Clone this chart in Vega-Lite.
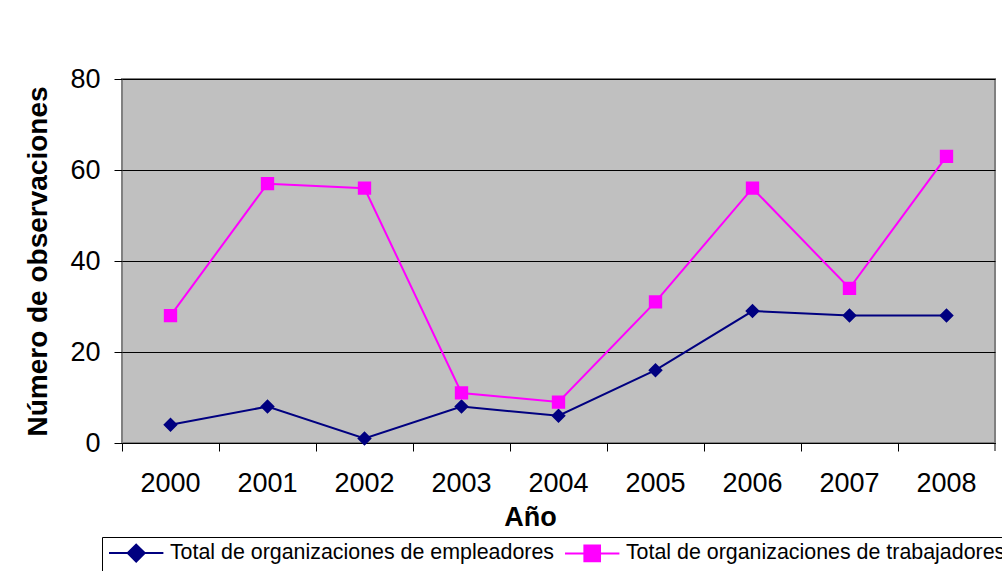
{
  "$schema": "https://vega.github.io/schema/vega-lite/v6.json",
  "width": 873,
  "height": 364,
  "autosize": {"type": "none"},
  "padding": {"left": 122, "top": 79, "right": 7, "bottom": 128},
  "background": "white",
  "config": {
    "font": "Liberation Sans",
    "view": {"fill": "#C0C0C0", "stroke": "#808080", "strokeWidth": 2}
  },
  "data": {
    "values": [
      {"year": "2000", "series": "Total de organizaciones de empleadores", "value": 4},
      {"year": "2001", "series": "Total de organizaciones de empleadores", "value": 8},
      {"year": "2002", "series": "Total de organizaciones de empleadores", "value": 1},
      {"year": "2003", "series": "Total de organizaciones de empleadores", "value": 8},
      {"year": "2004", "series": "Total de organizaciones de empleadores", "value": 6},
      {"year": "2005", "series": "Total de organizaciones de empleadores", "value": 16},
      {"year": "2006", "series": "Total de organizaciones de empleadores", "value": 29},
      {"year": "2007", "series": "Total de organizaciones de empleadores", "value": 28},
      {"year": "2008", "series": "Total de organizaciones de empleadores", "value": 28},
      {"year": "2000", "series": "Total de organizaciones de trabajadores", "value": 28},
      {"year": "2001", "series": "Total de organizaciones de trabajadores", "value": 57},
      {"year": "2002", "series": "Total de organizaciones de trabajadores", "value": 56},
      {"year": "2003", "series": "Total de organizaciones de trabajadores", "value": 11},
      {"year": "2004", "series": "Total de organizaciones de trabajadores", "value": 9},
      {"year": "2005", "series": "Total de organizaciones de trabajadores", "value": 31},
      {"year": "2006", "series": "Total de organizaciones de trabajadores", "value": 56},
      {"year": "2007", "series": "Total de organizaciones de trabajadores", "value": 34},
      {"year": "2008", "series": "Total de organizaciones de trabajadores", "value": 63}
    ]
  },
  "encoding": {
    "x": {
      "field": "year",
      "type": "ordinal",
      "scale": {"type": "band", "paddingInner": 0, "paddingOuter": 0},
      "axis": {
        "title": "Año",
        "titleFontSize": 27,
        "titleFontWeight": "bold",
        "titleColor": "black",
        "titlePadding": 8,
        "titleX": 408,
        "titleAlign": "center",
        "labelAngle": 0,
        "labelFontSize": 27,
        "labelColor": "black",
        "labelPadding": 19,
        "bandPosition": 0,
        "tickColor": "black",
        "tickSize": 8,
        "tickWidth": 1,
        "domainColor": "black",
        "domainWidth": 1,
        "grid": false
      }
    },
    "y": {
      "field": "value",
      "type": "quantitative",
      "scale": {"domain": [0, 80]},
      "axis": {
        "title": "Número de observaciones",
        "titleFontSize": 28,
        "titleFontWeight": "bold",
        "titleColor": "black",
        "titlePadding": 17,
        "values": [0, 20, 40, 60, 80],
        "labelFontSize": 27,
        "labelColor": "black",
        "labelPadding": 14,
        "tickColor": "black",
        "tickSize": 8,
        "tickWidth": 1,
        "domain": false,
        "grid": true,
        "gridColor": "black",
        "gridWidth": 1,
        "gridOpacity": 1
      }
    },
    "color": {
      "field": "series",
      "type": "nominal",
      "scale": {
        "domain": ["Total de organizaciones de empleadores", "Total de organizaciones de trabajadores"],
        "range": ["#000080", "#FF00FF"]
      },
      "legend": {
        "title": null,
        "orient": "none",
        "direction": "horizontal",
        "legendX": -20,
        "legendY": 458,
        "padding": 5,
        "strokeColor": "black",
        "fillColor": "white",
        "labelFontSize": 21.4,
        "labelColor": "black",
        "labelLimit": 600,
        "labelOffset": 23,
        "symbolOffset": 18.5,
        "symbolSize": 289,
        "symbolStrokeWidth": 2,
        "symbolOpacity": 1,
        "columnPadding": 6
      }
    }
  },
  "layer": [
    {"mark": {"type": "line", "strokeWidth": 2}},
    {
      "mark": {"type": "point", "filled": true, "opacity": 1, "size": 210},
      "encoding": {
        "shape": {
          "field": "series",
          "type": "nominal",
          "scale": {
            "domain": ["Total de organizaciones de empleadores", "Total de organizaciones de trabajadores"],
            "range": ["M-3.2,0L3.2,0M0,-1L1,0L0,1L-1,0Z", "M-3.2,0L3.2,0M-0.92,-0.92L0.92,-0.92L0.92,0.92L-0.92,0.92Z"]
          }
        }
      }
    },
    {
      "transform": [{"filter": "datum.year === '2008' && datum.series === 'Total de organizaciones de empleadores'"}],
      "mark": {"type": "rule", "strokeWidth": 1},
      "encoding": {
        "x": {"field": "year", "type": "ordinal", "bandPosition": 1},
        "y": {"datum": 0},
        "y2": {"datum": -1.76},
        "color": {"value": "black"}
      }
    }
  ]
}
